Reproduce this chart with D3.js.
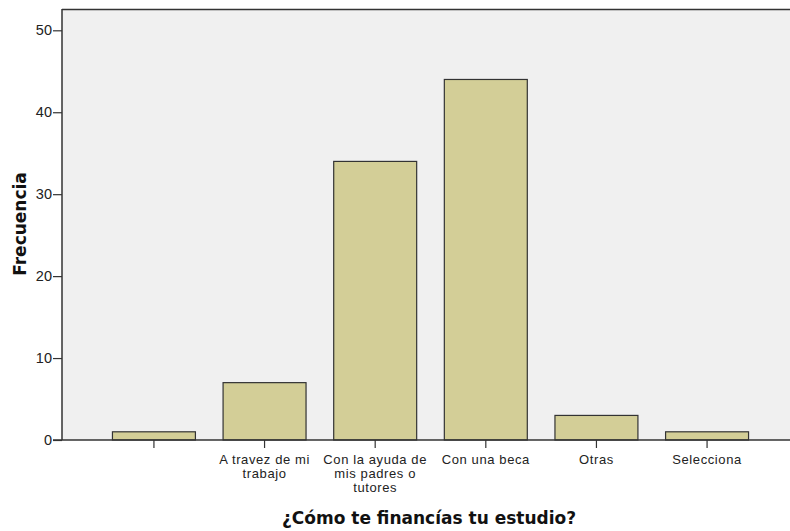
<!DOCTYPE html>
<html><head><meta charset="utf-8">
<script src="https://cdn.jsdelivr.net/npm/d3@7"></script>
<style>body{margin:0;background:#fff;} svg{display:block;}</style>
</head><body>
<svg id="c" width="790" height="531"></svg>
<script>
const categories = [" ", "A travez de mi trabajo", "Con la ayuda de mis padres o tutores", "Con una beca", "Otras", "Selecciona"];
const labelLines = [[""], ["A travez de mi", "trabajo"], ["Con la ayuda de", "mis padres o", "tutores"], ["Con una beca"], ["Otras"], ["Selecciona"]];
const values = [1, 7, 34, 44, 3, 1];
const yTicks = [0, 10, 20, 30, 40, 50];
const xTitle = "¿Cómo te financías tu estudio?";
const yTitle = "Frecuencia";

(function () {
const svg = d3.select("#c");
const pL = 62, pT = 9, pB = 440, pR = 790;
const x = d3.scaleBand().domain(categories).range([pL, 799]).paddingInner(0.25).paddingOuter(0.456);
const y = d3.scaleLinear().domain([0, 52.6]).range([pB, pT]);

svg.append("rect").attr("x", pL).attr("y", pT).attr("width", pR - pL).attr("height", pB - pT).attr("fill", "#f0f0f0");
svg.append("line").attr("x1", pL).attr("x2", pR).attr("y1", pT + 0.5).attr("y2", pT + 0.5).attr("stroke", "#333").attr("stroke-width", 1.5);

svg.selectAll("rect.bar").data(values).enter().append("rect").attr("class", "bar")
  .attr("x", (d, i) => x(categories[i]))
  .attr("y", d => y(d))
  .attr("width", x.bandwidth())
  .attr("height", d => pB - y(d))
  .attr("fill", "#d3ce97").attr("stroke", "#333").attr("stroke-width", 1.2);

const yAxis = svg.append("g").attr("transform", `translate(${pL},0)`)
  .call(d3.axisLeft(y).tickValues(yTicks).tickSize(9).tickPadding(1).tickFormat(d3.format("d")));
yAxis.select(".domain").remove();
yAxis.selectAll("line").attr("stroke", "#333").attr("stroke-width", 1.2);
yAxis.selectAll("text").attr("font-family", "Liberation Sans, Arial, sans-serif").attr("font-size", 14.5).attr("fill", "#222");
svg.append("line").attr("x1", pL).attr("x2", pL).attr("y1", pT).attr("y2", pB).attr("stroke", "#333").attr("stroke-width", 1.5);

const xAxis = svg.append("g").attr("transform", `translate(0,${pB})`)
  .call(d3.axisBottom(x).tickSize(8).tickFormat(""));
xAxis.select(".domain").remove();
xAxis.selectAll("line").attr("stroke", "#333").attr("stroke-width", 1.2);
svg.append("line").attr("x1", pL - 9).attr("x2", pR).attr("y1", pB).attr("y2", pB).attr("stroke", "#333").attr("stroke-width", 1.5);

categories.forEach((c, i) => {
  const cx = x(c) + x.bandwidth() / 2;
  const t = svg.append("text").attr("x", cx).attr("y", 464)
    .attr("text-anchor", "middle").attr("font-family", "Liberation Sans, Arial, sans-serif").attr("font-size", 13)
    .attr("letter-spacing", 0.6).attr("fill", "#222");
  labelLines[i].forEach((l, j) => t.append("tspan").attr("x", cx).attr("dy", j ? 14 : 0).text(l));
});

svg.append("text").attr("x", 429).attr("y", 524).attr("text-anchor", "middle")
  .attr("font-family", "DejaVu Sans, sans-serif").attr("font-weight", "bold").attr("font-size", 17).attr("fill", "#111").text(xTitle);
svg.append("text").attr("transform", "translate(26,224) rotate(-90)").attr("text-anchor", "middle")
  .attr("font-family", "DejaVu Sans, sans-serif").attr("font-weight", "bold").attr("font-size", 17).attr("fill", "#111").text(yTitle);
})();
</script>
</body></html>
